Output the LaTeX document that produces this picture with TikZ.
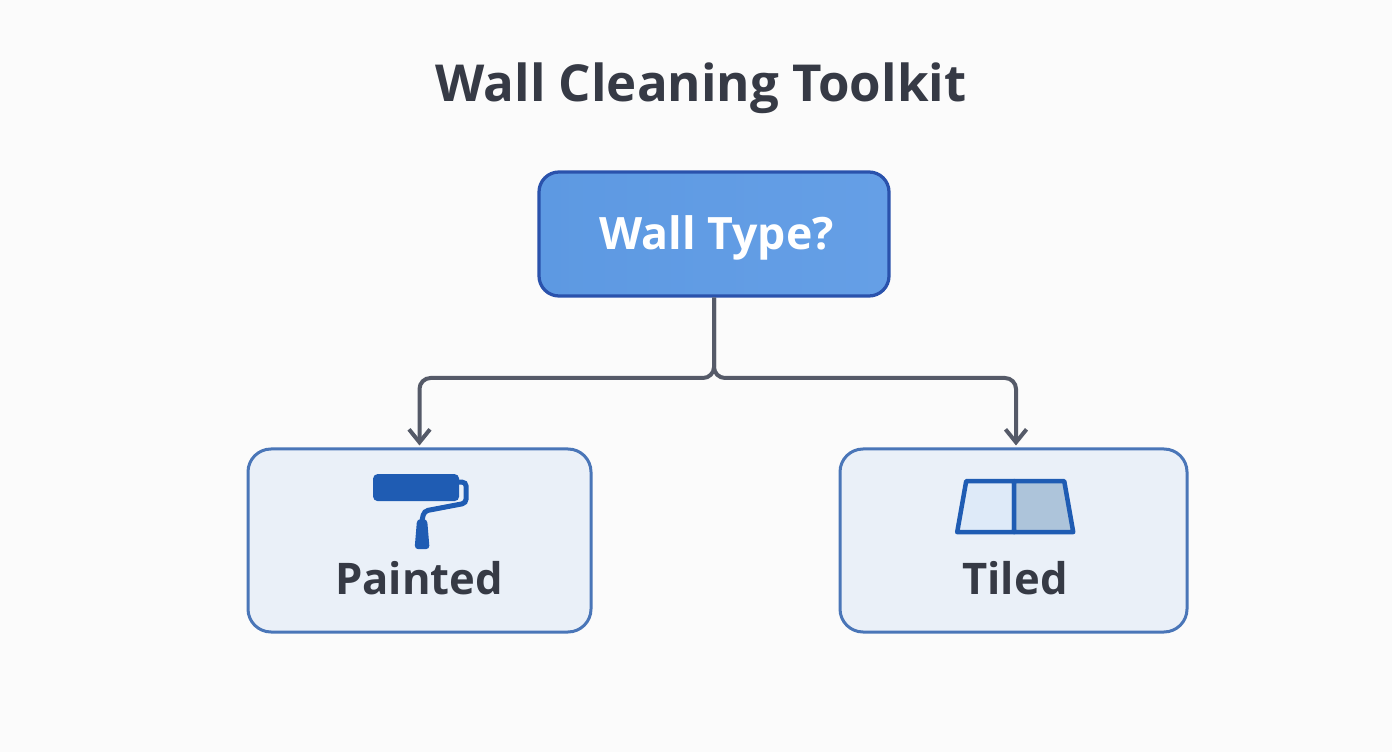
\documentclass[tikz,border=0pt]{standalone}
\usepackage{fontspec}
\setmainfont{Open Sans}
\usetikzlibrary{arrows.meta}

\definecolor{bgpage}{HTML}{FBFBFB}
\definecolor{inkdark}{HTML}{363A45}
\definecolor{linkgray}{HTML}{555A68}
\definecolor{mainleft}{HTML}{5D99E2}
\definecolor{mainright}{HTML}{659FE6}
\definecolor{mainborder}{HTML}{2A52AC}
\definecolor{optfill}{HTML}{EAF0F8}
\definecolor{optborder}{HTML}{4A76B8}
\definecolor{iconblue}{HTML}{1F5CB3}
\definecolor{tilelight}{HTML}{DEEAF8}
\definecolor{tiledark}{HTML}{ADC4DA}

\tikzset{
	mainbox/.style={draw=mainborder,line width=0.065cm,rounded corners=0.4cm,left color=mainleft,right color=mainright,minimum width=7cm,minimum height=2.48cm},
	mainlabel/.style={text=white,font=\fontsize{25.4}{30}\selectfont\bfseries},
	optbox/.style={draw=optborder,line width=0.06cm,rounded corners=0.46cm,fill=optfill,minimum height=3.66cm},
	optlabel/.style={text=inkdark,font=\fontsize{24.8}{30}\selectfont\bfseries},
	link/.style={draw=linkgray,line width=0.08cm,rounded corners=0.22cm,-{Straight Barb[length=0.26cm,width=0.42cm]},shorten >=0.04cm},
}

\begin{document}
\begin{tikzpicture}
		\useasboundingbox[fill=bgpage] (0,0) rectangle (27.84,15.04);
		\node[text=inkdark,font=\fontsize{29}{34}\selectfont\bfseries] (title) at (14.02,13.27) {Wall Cleaning Toolkit};

		\node[mainbox] (wall) at (14.28,10.36) {};
		\node[mainlabel] (walllabel) at (14.33,10.28) {Wall Type?};
		\node[optbox,minimum width=6.86cm] (painted) at (8.39,4.23) {};
		\node[optbox,minimum width=6.94cm] (tiled) at (20.27,4.23) {};
		\node[optlabel] (paintedlabel) at (8.38,3.48) {Painted};
		\node[optlabel] (tiledlabel) at (20.3,3.48) {Tiled};

		\coordinate (fork) at (14.28,7.48);
		\coordinate (tiledtop) at ([xshift=0.05cm]tiled.north);
		\draw[link] (wall.south) -- (fork) -- (fork -| painted.north) -- (painted.north);
		\draw[link] (wall.south) -- (fork) -- (fork -| tiledtop) -- (tiledtop);

		% icons, in pixels of the picture
		\begin{scope}[shift={(0,15.04)},x=0.02cm,y=-0.02cm]
			% roller
			\fill[iconblue,rounded corners=0.09cm] (373,474) rectangle (459,501);
			\draw[iconblue,line width=0.1cm,rounded corners=0.08cm] (459,482) -- (466,482) -- (466,503) -- (424,511) -- (422,520);
			\fill[iconblue,rounded corners=0.07cm] (417,519) -- (427,519) -- (429.5,549) -- (414.5,549) -- cycle;
			% tile
			\draw[iconblue,line width=0.09cm,line join=round,fill=tilelight] (966,481) -- (1014,481) -- (1014,532) -- (957,532) -- cycle;
			\draw[iconblue,line width=0.09cm,line join=round,fill=tiledark] (1014,481) -- (1064,481) -- (1073,532) -- (1014,532) -- cycle;
		\end{scope}
	\end{tikzpicture}
\end{document}
